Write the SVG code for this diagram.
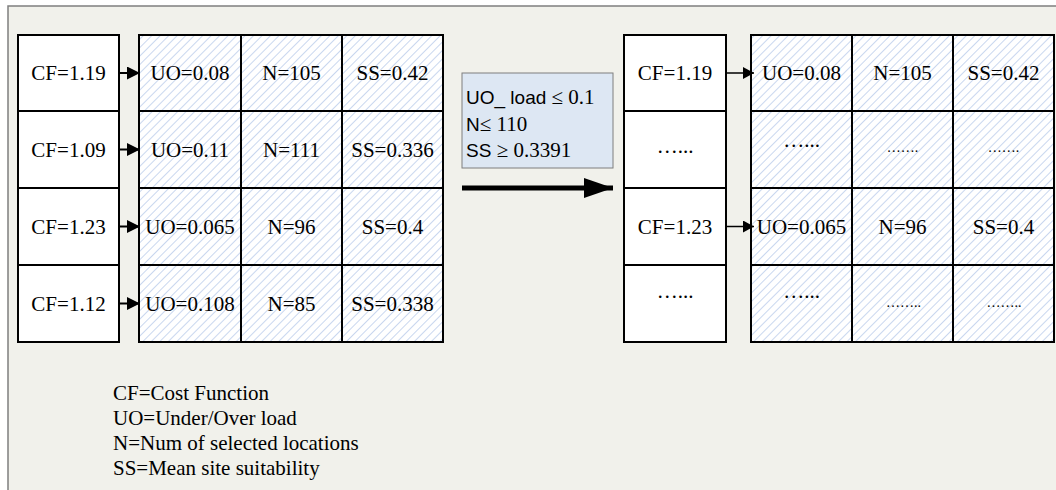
<svg xmlns="http://www.w3.org/2000/svg" width="1056" height="490" viewBox="0 0 1056 490">
<defs>
<style>
.bg{fill:#f1f1eb}
.frame{fill:none;stroke:#7f7f7f;stroke-width:1.5}
.cf{fill:#ffffff;stroke:#000;stroke-width:2}
.hc{fill:url(#hatch);stroke:#000;stroke-width:2}
.t{font-family:"Liberation Serif","Times New Roman",serif;font-size:21px;fill:#000;text-anchor:middle}
.ts{font-family:"Liberation Serif","Times New Roman",serif;font-size:14px;fill:#000;text-anchor:middle}
.lg{font-family:"Liberation Serif","Times New Roman",serif;font-size:21px;fill:#000}
.cb{fill:#dde7f3;stroke:#7f7f7f;stroke-width:1}
.sans{font-family:"Liberation Sans",Arial,sans-serif;font-size:19px;fill:#000}
.serif{font-family:"Liberation Serif","Times New Roman",serif;font-size:21px}
.c1{stroke:#000;stroke-width:2;fill:none}
.c2{stroke:#000;stroke-width:1.5;fill:none}
.big{stroke:#000;stroke-width:5;fill:none}
</style>
<pattern id="hatch" patternUnits="userSpaceOnUse" width="6" height="6" patternTransform="rotate(45)">
<rect width="6" height="6" fill="#ffffff"/>
<line x1="0" y1="0" x2="0" y2="6" stroke="#94afe0" stroke-width="1"/>
</pattern>
<marker id="ah1" markerUnits="userSpaceOnUse" markerWidth="14" markerHeight="14" refX="13" refY="6.5" orient="auto">
<path d="M0,0 L13,6.5 L0,13 Z" fill="#000"/>
</marker>
<marker id="ah2" markerUnits="userSpaceOnUse" markerWidth="12" markerHeight="12" refX="11" refY="6" orient="auto">
<path d="M0,0 L11,6 L0,12 Z" fill="#000"/>
</marker>
<marker id="ahb" markerUnits="userSpaceOnUse" markerWidth="30" markerHeight="22" refX="29" refY="10" orient="auto">
<path d="M0,0 L29,10 L0,20 Z" fill="#000"/>
</marker>
</defs>

<rect x="0" y="0" width="1056" height="490" fill="#ffffff"/>
<rect x="8" y="6" width="1050" height="490" class="bg"/>
<path d="M8,490 L8,6 L1056,6" class="frame"/>

<g id="left-table">
<g id="L-cf1"><rect x="18" y="35" width="101" height="76" class="cf"/><text x="68.5" y="80" class="t">CF=1.19</text></g>
<g id="L-cf2"><rect x="18" y="111" width="101" height="77" class="cf"/><text x="68.5" y="156.5" class="t">CF=1.09</text></g>
<g id="L-cf3"><rect x="18" y="188" width="101" height="77" class="cf"/><text x="68.5" y="233.5" class="t">CF=1.23</text></g>
<g id="L-cf4"><rect x="18" y="265" width="101" height="77" class="cf"/><text x="68.5" y="310.5" class="t">CF=1.12</text></g>

<g id="L-row1">
<rect x="139" y="35" width="102" height="76" class="hc"/><rect x="241" y="35" width="101" height="76" class="hc"/><rect x="342" y="35" width="101" height="76" class="hc"/>
<text x="190" y="80" class="t">UO=0.08</text><text x="291.5" y="80" class="t">N=105</text><text x="392.5" y="80" class="t">SS=0.42</text>
</g>
<g id="L-row2">
<rect x="139" y="111" width="102" height="77" class="hc"/><rect x="241" y="111" width="101" height="77" class="hc"/><rect x="342" y="111" width="101" height="77" class="hc"/>
<text x="190" y="156.5" class="t">UO=0.11</text><text x="291.5" y="156.5" class="t">N=111</text><text x="392.5" y="156.5" class="t">SS=0.336</text>
</g>
<g id="L-row3">
<rect x="139" y="188" width="102" height="77" class="hc"/><rect x="241" y="188" width="101" height="77" class="hc"/><rect x="342" y="188" width="101" height="77" class="hc"/>
<text x="190" y="233.5" class="t">UO=0.065</text><text x="291.5" y="233.5" class="t">N=96</text><text x="392.5" y="233.5" class="t">SS=0.4</text>
</g>
<g id="L-row4">
<rect x="139" y="265" width="102" height="77" class="hc"/><rect x="241" y="265" width="101" height="77" class="hc"/><rect x="342" y="265" width="101" height="77" class="hc"/>
<text x="190" y="310.5" class="t">UO=0.108</text><text x="291.5" y="310.5" class="t">N=85</text><text x="392.5" y="310.5" class="t">SS=0.338</text>
</g>
</g>

<g id="criteria">
<rect x="462" y="73" width="151" height="95" class="cb"/>
<text x="466" y="104" class="sans">UO_ load <tspan class="serif">≤ 0.1</tspan></text>
<text x="466" y="131" class="sans">N<tspan class="serif">≤ 110</tspan></text>
<text x="466" y="157" class="sans">SS <tspan class="serif">≥ 0.3391</tspan></text>
</g>

<g id="right-table">
<g id="R-cf1"><rect x="624" y="35" width="102" height="76" class="cf"/><text x="675" y="80" class="t">CF=1.19</text></g>
<g id="R-cf2"><rect x="624" y="111" width="102" height="77" class="cf"/><text x="675" y="153" class="t">…...</text></g>
<g id="R-cf3"><rect x="624" y="188" width="102" height="77" class="cf"/><text x="675" y="233.5" class="t">CF=1.23</text></g>
<g id="R-cf4"><rect x="624" y="265" width="102" height="77" class="cf"/><text x="675" y="298" class="t">…...</text></g>

<g id="R-row1">
<rect x="751" y="35" width="101" height="76" class="hc"/><rect x="852" y="35" width="101" height="76" class="hc"/><rect x="953" y="35" width="101" height="76" class="hc"/>
<text x="801.5" y="80" class="t">UO=0.08</text><text x="902.5" y="80" class="t">N=105</text><text x="1003.5" y="80" class="t">SS=0.42</text>
</g>
<g id="R-row2">
<rect x="751" y="111" width="101" height="77" class="hc"/><rect x="852" y="111" width="101" height="77" class="hc"/><rect x="953" y="111" width="101" height="77" class="hc"/>
<text x="801.5" y="147" class="t">…...</text><text x="902.5" y="152" class="ts">…….</text><text x="1003.5" y="152" class="ts">…….</text>
</g>
<g id="R-row3">
<rect x="751" y="188" width="101" height="77" class="hc"/><rect x="852" y="188" width="101" height="77" class="hc"/><rect x="953" y="188" width="101" height="77" class="hc"/>
<text x="801.5" y="233.5" class="t">UO=0.065</text><text x="902.5" y="233.5" class="t">N=96</text><text x="1003.5" y="233.5" class="t">SS=0.4</text>
</g>
<g id="R-row4">
<rect x="751" y="265" width="101" height="77" class="hc"/><rect x="852" y="265" width="101" height="77" class="hc"/><rect x="953" y="265" width="101" height="77" class="hc"/>
<text x="801.5" y="298" class="t">…...</text><text x="903.5" y="307" class="ts">……..</text><text x="1004" y="307" class="ts">……..</text>
</g>
</g>

<g id="connectors">
<line x1="119" y1="73" x2="140" y2="73" class="c1" marker-end="url(#ah1)"/>
<line x1="119" y1="149.5" x2="140" y2="149.5" class="c1" marker-end="url(#ah1)"/>
<line x1="119" y1="226.5" x2="140" y2="226.5" class="c1" marker-end="url(#ah1)"/>
<line x1="119" y1="303.5" x2="140" y2="303.5" class="c1" marker-end="url(#ah1)"/>
<line x1="726" y1="73" x2="754" y2="73" class="c2" marker-end="url(#ah2)"/>
<line x1="726" y1="226.5" x2="754" y2="226.5" class="c2" marker-end="url(#ah2)"/>
<line x1="462" y1="188" x2="613" y2="188" class="big" marker-end="url(#ahb)"/>
</g>

<g id="legend">
<text x="113" y="400" class="lg">CF=Cost Function</text>
<text x="113" y="425" class="lg">UO=Under/Over load</text>
<text x="113" y="450" class="lg">N=Num of selected locations</text>
<text x="113" y="475" class="lg">SS=Mean site suitability</text>
</g>
</svg>
